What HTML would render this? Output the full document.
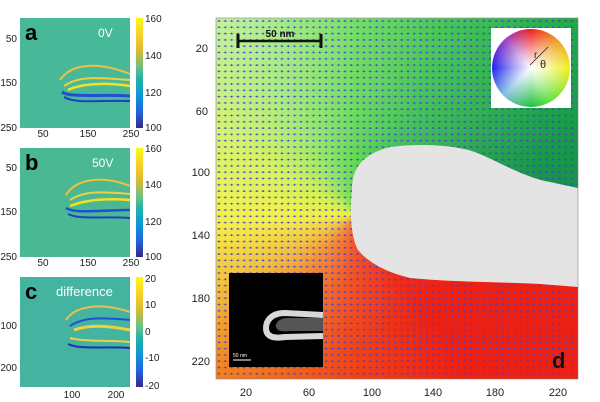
<!DOCTYPE html>
<html><head><meta charset="utf-8"><style>
body{margin:0;background:#fff;width:600px;height:402px;overflow:hidden}
svg{display:block}
text{font-family:"Liberation Sans",sans-serif}
</style></head><body>
<svg width="600" height="402" viewBox="0 0 600 402">
<defs>
<linearGradient id="parula" x1="0" y1="0" x2="0" y2="1">
<stop offset="0" stop-color="#f9fb0e"/><stop offset="0.15" stop-color="#fbd02b"/><stop offset="0.3" stop-color="#d8ba31"/>
<stop offset="0.45" stop-color="#6bc085"/><stop offset="0.55" stop-color="#26b2a8"/><stop offset="0.7" stop-color="#0b98d4"/>
<stop offset="0.85" stop-color="#2064e0"/><stop offset="1" stop-color="#352a87"/></linearGradient>
<pattern id="dots" width="6.3" height="6.3" patternUnits="userSpaceOnUse" x="216" y="18">
<circle cx="3" cy="3" r="0.9" fill="#3a3ad8"/><line x1="1" y1="3" x2="5" y2="3" stroke="#5050c0" stroke-width="0.35"/></pattern>
<radialGradient id="pale" cx="0" cy="0" r="1">
<stop offset="0" stop-color="#fff" stop-opacity="0.5"/><stop offset="0.6" stop-color="#fff" stop-opacity="0.15"/><stop offset="1" stop-color="#fff" stop-opacity="0"/></radialGradient>
<clipPath id="dclip"><rect x="216" y="18" width="362" height="361"/></clipPath>
</defs>

<g>
<rect x="20" y="18" width="110" height="110" fill="#48b998"/>
<path d="M60,80 C70,65 95,60 130,74" stroke="#f0c040" stroke-width="2" fill="none"/>
<path d="M64,86 C80,75 100,78 130,80" stroke="#f0d040" stroke-width="2" fill="none"/>
<path d="M68,90 C80,84 105,82 130,86" stroke="#f8e020" stroke-width="2.5" fill="none"/>
<path d="M62,92 C70,98 100,94 130,96" stroke="#2050d0" stroke-width="3" fill="none"/>
<path d="M64,97 C75,104 100,100 130,101" stroke="#2040c0" stroke-width="2" fill="none"/>
<rect x="136" y="18" width="7" height="110" fill="url(#parula)"/>
<text x="98" y="37" font-size="12" fill="#fff">0V</text>
<text x="25" y="40" font-size="22" font-weight="bold">a</text>

<rect x="20" y="148" width="110" height="109" fill="#4bb894"/>
<path d="M66,195 C75,180 100,174 130,186" stroke="#f0c040" stroke-width="2" fill="none"/>
<path d="M70,200 C85,190 105,192 130,194" stroke="#f0d040" stroke-width="2" fill="none"/>
<path d="M70,206 C85,200 105,198 130,200" stroke="#f8e020" stroke-width="2.5" fill="none"/>
<path d="M66,208 C75,214 100,210 130,210" stroke="#2050d0" stroke-width="2.5" fill="none"/>
<path d="M68,214 C80,220 100,216 130,218" stroke="#2040c0" stroke-width="2" fill="none"/>
<rect x="136" y="148" width="7" height="109" fill="url(#parula)"/>
<text x="92" y="167" font-size="12" fill="#fff">50V</text>
<text x="25" y="170" font-size="22" font-weight="bold">b</text>

<rect x="20" y="277" width="110" height="110" fill="#44b3a0"/>
<path d="M66,320 C75,306 100,302 130,312" stroke="#e8c050" stroke-width="2" fill="none"/>
<path d="M70,326 C85,316 105,318 130,320" stroke="#2050d0" stroke-width="2" fill="none"/>
<path d="M74,330 C90,324 110,326 130,330" stroke="#f0d040" stroke-width="3" fill="none"/>
<path d="M70,338 C85,342 110,340 130,342" stroke="#f0d040" stroke-width="2" fill="none"/>
<path d="M68,344 C80,350 105,346 130,348" stroke="#2030b0" stroke-width="2" fill="none"/>
<rect x="136" y="277" width="7" height="110" fill="url(#parula)"/>
<text x="56" y="296" font-size="13" fill="#fff">difference</text>
<text x="25" y="299" font-size="22" font-weight="bold">c</text>
</g>
<g font-size="10" fill="#222">
<text x="145" y="22">160</text><text x="145" y="59">140</text><text x="145" y="96">120</text><text x="145" y="131">100</text>
<text x="145" y="152">160</text><text x="145" y="188">140</text><text x="145" y="225">120</text><text x="145" y="260">100</text>
<text x="145" y="282">20</text><text x="145" y="308">10</text><text x="145" y="335">0</text><text x="145" y="361">-10</text><text x="145" y="389">-20</text>
<g text-anchor="end"><text x="17" y="42">50</text><text x="17" y="86">150</text><text x="17" y="131">250</text>
<text x="17" y="171">50</text><text x="17" y="215">150</text><text x="17" y="260">250</text>
<text x="17" y="329">100</text><text x="17" y="371">200</text></g>
<g text-anchor="middle"><text x="43" y="137">50</text><text x="88" y="137">150</text><text x="131" y="137">250</text>
<text x="43" y="266">50</text><text x="88" y="266">150</text><text x="131" y="266">250</text>
<text x="72" y="398">100</text><text x="116" y="398">200</text></g>
</g>

<g clip-path="url(#dclip)">
<foreignObject x="216" y="18" width="362" height="361">
<div xmlns="http://www.w3.org/1999/xhtml" style="width:362px;height:361px;background:conic-gradient(from 0deg at 140px 197px,#40d030 0deg,#28b840 30deg,#189a48 70deg,#14904a 88deg,#f02010 95deg,#f02010 145deg,#f04818 185deg,#f08020 220deg,#f0b828 242deg,#f2ee28 268deg,#c8ee30 300deg,#7ae040 330deg,#40d030 360deg)"></div>
</foreignObject>
<rect x="216" y="18" width="362" height="361" fill="url(#pale)"/>
<rect x="216" y="18" width="362" height="361" fill="url(#dots)"/>
<path d="M352,190 C352,170 360,155 390,147 C420,143 455,145 475,152 C500,162 525,178 550,182 L578,188 L578,287 L540,284 C500,282 450,282 410,278 C385,272 368,262 358,250 C350,235 350,210 352,190 Z" fill="#e4e4e4"/>
</g>
<rect x="216" y="18" width="362" height="361" fill="none" stroke="#888" stroke-width="0.6"/>
<line x1="238" y1="41" x2="321" y2="41" stroke="#111" stroke-width="2.5"/>
<line x1="238" y1="34" x2="238" y2="48" stroke="#111" stroke-width="3"/>
<line x1="321" y1="34" x2="321" y2="48" stroke="#111" stroke-width="3"/>
<text x="280" y="37" font-size="10" font-weight="bold" text-anchor="middle" fill="#111">50 nm</text>
<rect x="491" y="28" width="80" height="80" fill="#fff"/>
<foreignObject x="491" y="28" width="80" height="80">
<div xmlns="http://www.w3.org/1999/xhtml" style="margin:1px 0 0 1px;width:78px;height:78px;border-radius:50%;background:radial-gradient(circle,#fff 0%,rgba(255,255,255,0.6) 30%,rgba(255,255,255,0) 70%),conic-gradient(#f02020 0deg,#f0a020 45deg,#f0f020 90deg,#60e040 150deg,#20c040 180deg,#80c0e0 225deg,#2020f0 270deg,#a040c0 320deg,#f02020 360deg)"></div>
</foreignObject>
<line x1="530" y1="65" x2="548" y2="47" stroke="#222" stroke-width="0.8"/>
<text x="534" y="58" font-size="10" fill="#222">r</text>
<text x="540" y="68" font-size="11" fill="#222">θ</text>
<rect x="229" y="273" width="94" height="94" fill="#000"/>
<path d="M323,315 L285,313 C270,313 266,322 266,328 C266,336 272,339 285,337 L323,336" fill="none" stroke="#d8d8d8" stroke-width="6"/>
<path d="M323,318 L288,318 C278,318 275,324 276,327 C277,331 282,332 290,331 L323,331" fill="#555"/>
<line x1="233" y1="360" x2="251" y2="360" stroke="#fff" stroke-width="1"/>
<text x="233" y="357" font-size="5" fill="#fff">50 nm</text>
<text x="552" y="368" font-size="22" font-weight="bold" fill="#111">d</text>
<g font-size="11" fill="#222" text-anchor="middle">
<text x="246" y="396">20</text><text x="309" y="396">60</text><text x="372" y="396">100</text><text x="433" y="396">140</text><text x="495" y="396">180</text><text x="558" y="396">220</text>
<g text-anchor="end"><text x="208" y="52">20</text><text x="208" y="115">60</text><text x="210" y="176">100</text><text x="210" y="239">140</text><text x="210" y="302">180</text><text x="210" y="365">220</text></g>
</g>
</svg>
</body></html>
